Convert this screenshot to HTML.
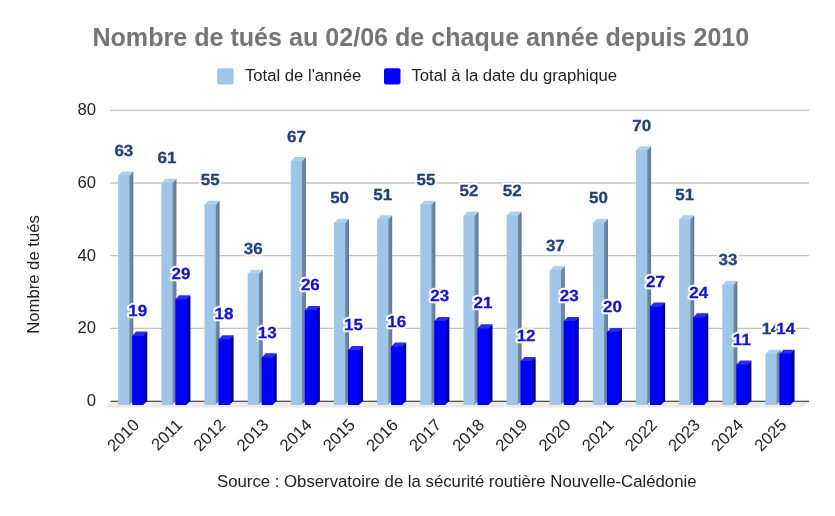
<!DOCTYPE html>
<html><head><meta charset="utf-8"><style>
html,body{margin:0;padding:0;background:#fff;}
body{width:835px;height:516px;overflow:hidden;}
svg{display:block;will-change:transform;}
text{font-family:"Liberation Sans",sans-serif;}
.ax{font-size:16.66px;fill:#222222;}
.title{font-size:25.1px;font-weight:bold;fill:#757575;}
.leg{font-size:16.66px;fill:#222222;}
.dl1{font-size:17px;text-rendering:geometricPrecision;font-weight:bold;fill:#213f7c;stroke:#213f7c;stroke-width:0.3px;}
.dl2{font-size:17px;text-rendering:geometricPrecision;font-weight:bold;fill:#1414d0;stroke:#1414d0;stroke-width:0.3px;}
.halo{fill:#ffffff;stroke:#ffffff;stroke-width:4.6px;stroke-linejoin:round;}
</style></head><body>
<svg width="835" height="516" viewBox="0 0 835 516">
<defs>
<linearGradient id="gl" gradientUnits="objectBoundingBox" x1="0" y1="0" x2="1" y2="0"><stop offset="0" stop-color="#7893ae"/><stop offset="1" stop-color="#5f7891"/></linearGradient>
<linearGradient id="gd" gradientUnits="objectBoundingBox" x1="0" y1="0" x2="1" y2="0"><stop offset="0" stop-color="#0000d8"/><stop offset="1" stop-color="#000088"/></linearGradient>
</defs>
<rect x="0" y="0" width="835" height="516" fill="#ffffff"/>
<text x="92.4" y="46" class="title">Nombre de tués au 02/06 de chaque année depuis 2010</text>
<rect x="217.2" y="68.2" width="16.5" height="16.3" rx="2" fill="#9fc5e8"/>
<text x="245" y="81" class="leg">Total de l'année</text>
<rect x="384" y="68.2" width="16.5" height="16.3" rx="2" fill="#0000ff"/>
<text x="411.5" y="81" class="leg">Total à la date du graphique</text>
<text x="0" y="0" text-anchor="middle" class="ax" transform="translate(39,274.5) rotate(-90)">Nombre de tués</text>
<text x="217" y="486.5" class="ax" style="font-size:16.75px">Source : Observatoire de la sécurité routière Nouvelle-Calédonie</text>
<line x1="110.5" y1="328.40" x2="809" y2="328.40" stroke="#c3c3c3" stroke-width="1.3"/>
<line x1="110.5" y1="255.70" x2="809" y2="255.70" stroke="#c3c3c3" stroke-width="1.3"/>
<line x1="110.5" y1="183.00" x2="809" y2="183.00" stroke="#c3c3c3" stroke-width="1.3"/>
<line x1="110.5" y1="110.30" x2="809" y2="110.30" stroke="#c3c3c3" stroke-width="1.3"/>
<text x="96" y="405.90" text-anchor="end" class="ax">0</text>
<text x="96" y="333.20" text-anchor="end" class="ax">20</text>
<text x="96" y="260.50" text-anchor="end" class="ax">40</text>
<text x="96" y="187.80" text-anchor="end" class="ax">60</text>
<text x="96" y="115.10" text-anchor="end" class="ax">80</text>
<line x1="110.5" y1="401.4" x2="809" y2="401.4" stroke="#222222" stroke-width="1.2"/>
<polygon points="110.5,401.70 809,401.70 802.5,407.60 104,407.60" fill="#ebebeb"/>
<polygon points="128.80,175.50 133.30,171.60 133.30,401.10 128.80,405.00" fill="url(#gl)"/>
<polygon points="118.20,175.90 122.10,171.60 133.30,171.60 129.40,175.90" fill="#b0cfec"/>
<rect x="118.20" y="175.50" width="11.20" height="229.50" fill="#9fc5e8"/>
<polygon points="142.80,335.44 147.30,331.54 147.30,401.10 142.80,405.00" fill="url(#gd)"/>
<polygon points="132.20,335.83 136.10,331.54 147.30,331.54 143.40,335.83" fill="#2a2af2"/>
<rect x="132.20" y="335.44" width="11.20" height="69.56" fill="#0000ff"/>
<polygon points="171.95,182.77 176.45,178.87 176.45,401.10 171.95,405.00" fill="url(#gl)"/>
<polygon points="161.35,183.17 165.25,178.87 176.45,178.87 172.55,183.17" fill="#b0cfec"/>
<rect x="161.35" y="182.77" width="11.20" height="222.23" fill="#9fc5e8"/>
<polygon points="185.95,299.09 190.45,295.19 190.45,401.10 185.95,405.00" fill="url(#gd)"/>
<polygon points="175.35,299.49 179.25,295.19 190.45,295.19 186.55,299.49" fill="#2a2af2"/>
<rect x="175.35" y="299.09" width="11.20" height="105.91" fill="#0000ff"/>
<polygon points="215.10,204.58 219.60,200.68 219.60,401.10 215.10,405.00" fill="url(#gl)"/>
<polygon points="204.50,204.98 208.40,200.68 219.60,200.68 215.70,204.98" fill="#b0cfec"/>
<rect x="204.50" y="204.58" width="11.20" height="200.42" fill="#9fc5e8"/>
<polygon points="229.10,339.07 233.60,335.17 233.60,401.10 229.10,405.00" fill="url(#gd)"/>
<polygon points="218.50,339.47 222.40,335.17 233.60,335.17 229.70,339.47" fill="#2a2af2"/>
<rect x="218.50" y="339.07" width="11.20" height="65.93" fill="#0000ff"/>
<polygon points="258.25,273.64 262.75,269.74 262.75,401.10 258.25,405.00" fill="url(#gl)"/>
<polygon points="247.65,274.04 251.55,269.74 262.75,269.74 258.85,274.04" fill="#b0cfec"/>
<rect x="247.65" y="273.64" width="11.20" height="131.36" fill="#9fc5e8"/>
<polygon points="272.25,357.25 276.75,353.35 276.75,401.10 272.25,405.00" fill="url(#gd)"/>
<polygon points="261.65,357.64 265.55,353.35 276.75,353.35 272.85,357.64" fill="#2a2af2"/>
<rect x="261.65" y="357.25" width="11.20" height="47.75" fill="#0000ff"/>
<polygon points="301.40,160.96 305.90,157.06 305.90,401.10 301.40,405.00" fill="url(#gl)"/>
<polygon points="290.80,161.36 294.70,157.06 305.90,157.06 302.00,161.36" fill="#b0cfec"/>
<rect x="290.80" y="160.96" width="11.20" height="244.04" fill="#9fc5e8"/>
<polygon points="315.40,309.99 319.90,306.09 319.90,401.10 315.40,405.00" fill="url(#gd)"/>
<polygon points="304.80,310.39 308.70,306.09 319.90,306.09 316.00,310.39" fill="#2a2af2"/>
<rect x="304.80" y="309.99" width="11.20" height="95.01" fill="#0000ff"/>
<polygon points="344.55,222.75 349.05,218.85 349.05,401.10 344.55,405.00" fill="url(#gl)"/>
<polygon points="333.95,223.15 337.85,218.85 349.05,218.85 345.15,223.15" fill="#b0cfec"/>
<rect x="333.95" y="222.75" width="11.20" height="182.25" fill="#9fc5e8"/>
<polygon points="358.55,349.98 363.05,346.08 363.05,401.10 358.55,405.00" fill="url(#gd)"/>
<polygon points="347.95,350.38 351.85,346.08 363.05,346.08 359.15,350.38" fill="#2a2af2"/>
<rect x="347.95" y="349.98" width="11.20" height="55.02" fill="#0000ff"/>
<polygon points="387.70,219.12 392.20,215.22 392.20,401.10 387.70,405.00" fill="url(#gl)"/>
<polygon points="377.10,219.52 381.00,215.22 392.20,215.22 388.30,219.52" fill="#b0cfec"/>
<rect x="377.10" y="219.12" width="11.20" height="185.88" fill="#9fc5e8"/>
<polygon points="401.70,346.34 406.20,342.44 406.20,401.10 401.70,405.00" fill="url(#gd)"/>
<polygon points="391.10,346.74 395.00,342.44 406.20,342.44 402.30,346.74" fill="#2a2af2"/>
<rect x="391.10" y="346.34" width="11.20" height="58.66" fill="#0000ff"/>
<polygon points="430.85,204.58 435.35,200.68 435.35,401.10 430.85,405.00" fill="url(#gl)"/>
<polygon points="420.25,204.98 424.15,200.68 435.35,200.68 431.45,204.98" fill="#b0cfec"/>
<rect x="420.25" y="204.58" width="11.20" height="200.42" fill="#9fc5e8"/>
<polygon points="444.85,320.89 449.35,317.00 449.35,401.10 444.85,405.00" fill="url(#gd)"/>
<polygon points="434.25,321.29 438.15,317.00 449.35,317.00 445.45,321.29" fill="#2a2af2"/>
<rect x="434.25" y="320.89" width="11.20" height="84.11" fill="#0000ff"/>
<polygon points="474.00,215.48 478.50,211.58 478.50,401.10 474.00,405.00" fill="url(#gl)"/>
<polygon points="463.40,215.88 467.30,211.58 478.50,211.58 474.60,215.88" fill="#b0cfec"/>
<rect x="463.40" y="215.48" width="11.20" height="189.52" fill="#9fc5e8"/>
<polygon points="488.00,328.17 492.50,324.27 492.50,401.10 488.00,405.00" fill="url(#gd)"/>
<polygon points="477.40,328.56 481.30,324.27 492.50,324.27 488.60,328.56" fill="#2a2af2"/>
<rect x="477.40" y="328.17" width="11.20" height="76.83" fill="#0000ff"/>
<polygon points="517.15,215.48 521.65,211.58 521.65,401.10 517.15,405.00" fill="url(#gl)"/>
<polygon points="506.55,215.88 510.45,211.58 521.65,211.58 517.75,215.88" fill="#b0cfec"/>
<rect x="506.55" y="215.48" width="11.20" height="189.52" fill="#9fc5e8"/>
<polygon points="531.15,360.88 535.65,356.98 535.65,401.10 531.15,405.00" fill="url(#gd)"/>
<polygon points="520.55,361.28 524.45,356.98 535.65,356.98 531.75,361.28" fill="#2a2af2"/>
<rect x="520.55" y="360.88" width="11.20" height="44.12" fill="#0000ff"/>
<polygon points="560.30,270.00 564.80,266.11 564.80,401.10 560.30,405.00" fill="url(#gl)"/>
<polygon points="549.70,270.40 553.60,266.11 564.80,266.11 560.90,270.40" fill="#b0cfec"/>
<rect x="549.70" y="270.00" width="11.20" height="135.00" fill="#9fc5e8"/>
<polygon points="574.30,320.89 578.80,317.00 578.80,401.10 574.30,405.00" fill="url(#gd)"/>
<polygon points="563.70,321.29 567.60,317.00 578.80,317.00 574.90,321.29" fill="#2a2af2"/>
<rect x="563.70" y="320.89" width="11.20" height="84.11" fill="#0000ff"/>
<polygon points="603.45,222.75 607.95,218.85 607.95,401.10 603.45,405.00" fill="url(#gl)"/>
<polygon points="592.85,223.15 596.75,218.85 607.95,218.85 604.05,223.15" fill="#b0cfec"/>
<rect x="592.85" y="222.75" width="11.20" height="182.25" fill="#9fc5e8"/>
<polygon points="617.45,331.80 621.95,327.90 621.95,401.10 617.45,405.00" fill="url(#gd)"/>
<polygon points="606.85,332.20 610.75,327.90 621.95,327.90 618.05,332.20" fill="#2a2af2"/>
<rect x="606.85" y="331.80" width="11.20" height="73.20" fill="#0000ff"/>
<polygon points="646.60,150.05 651.10,146.15 651.10,401.10 646.60,405.00" fill="url(#gl)"/>
<polygon points="636.00,150.45 639.90,146.15 651.10,146.15 647.20,150.45" fill="#b0cfec"/>
<rect x="636.00" y="150.05" width="11.20" height="254.95" fill="#9fc5e8"/>
<polygon points="660.60,306.36 665.10,302.46 665.10,401.10 660.60,405.00" fill="url(#gd)"/>
<polygon points="650.00,306.75 653.90,302.46 665.10,302.46 661.20,306.75" fill="#2a2af2"/>
<rect x="650.00" y="306.36" width="11.20" height="98.64" fill="#0000ff"/>
<polygon points="689.75,219.12 694.25,215.22 694.25,401.10 689.75,405.00" fill="url(#gl)"/>
<polygon points="679.15,219.52 683.05,215.22 694.25,215.22 690.35,219.52" fill="#b0cfec"/>
<rect x="679.15" y="219.12" width="11.20" height="185.88" fill="#9fc5e8"/>
<polygon points="703.75,317.26 708.25,313.36 708.25,401.10 703.75,405.00" fill="url(#gd)"/>
<polygon points="693.15,317.66 697.05,313.36 708.25,313.36 704.35,317.66" fill="#2a2af2"/>
<rect x="693.15" y="317.26" width="11.20" height="87.74" fill="#0000ff"/>
<polygon points="732.90,284.55 737.40,280.65 737.40,401.10 732.90,405.00" fill="url(#gl)"/>
<polygon points="722.30,284.94 726.20,280.65 737.40,280.65 733.50,284.94" fill="#b0cfec"/>
<rect x="722.30" y="284.55" width="11.20" height="120.45" fill="#9fc5e8"/>
<polygon points="746.90,364.51 751.40,360.62 751.40,401.10 746.90,405.00" fill="url(#gd)"/>
<polygon points="736.30,364.91 740.20,360.62 751.40,360.62 747.50,364.91" fill="#2a2af2"/>
<rect x="736.30" y="364.51" width="11.20" height="40.49" fill="#0000ff"/>
<polygon points="776.05,353.61 780.55,349.71 780.55,401.10 776.05,405.00" fill="url(#gl)"/>
<polygon points="765.45,354.01 769.35,349.71 780.55,349.71 776.65,354.01" fill="#b0cfec"/>
<rect x="765.45" y="353.61" width="11.20" height="51.39" fill="#9fc5e8"/>
<polygon points="790.05,353.61 794.55,349.71 794.55,401.10 790.05,405.00" fill="url(#gd)"/>
<polygon points="779.45,354.01 783.35,349.71 794.55,349.71 790.65,354.01" fill="#2a2af2"/>
<rect x="779.45" y="353.61" width="11.20" height="51.39" fill="#0000ff"/>
<text x="0" y="0" text-anchor="middle" class="dl1 halo" transform="translate(123.85,156.10) scale(1,0.94)">63</text>
<text x="0" y="0" text-anchor="middle" class="dl1" transform="translate(123.85,156.10) scale(1,0.94)">63</text>
<text x="0" y="0" text-anchor="middle" class="dl1 halo" transform="translate(167.00,163.37) scale(1,0.94)">61</text>
<text x="0" y="0" text-anchor="middle" class="dl1" transform="translate(167.00,163.37) scale(1,0.94)">61</text>
<text x="0" y="0" text-anchor="middle" class="dl1 halo" transform="translate(210.15,185.18) scale(1,0.94)">55</text>
<text x="0" y="0" text-anchor="middle" class="dl1" transform="translate(210.15,185.18) scale(1,0.94)">55</text>
<text x="0" y="0" text-anchor="middle" class="dl1 halo" transform="translate(253.30,254.24) scale(1,0.94)">36</text>
<text x="0" y="0" text-anchor="middle" class="dl1" transform="translate(253.30,254.24) scale(1,0.94)">36</text>
<text x="0" y="0" text-anchor="middle" class="dl1 halo" transform="translate(296.45,141.56) scale(1,0.94)">67</text>
<text x="0" y="0" text-anchor="middle" class="dl1" transform="translate(296.45,141.56) scale(1,0.94)">67</text>
<text x="0" y="0" text-anchor="middle" class="dl1 halo" transform="translate(339.60,203.35) scale(1,0.94)">50</text>
<text x="0" y="0" text-anchor="middle" class="dl1" transform="translate(339.60,203.35) scale(1,0.94)">50</text>
<text x="0" y="0" text-anchor="middle" class="dl1 halo" transform="translate(382.75,199.72) scale(1,0.94)">51</text>
<text x="0" y="0" text-anchor="middle" class="dl1" transform="translate(382.75,199.72) scale(1,0.94)">51</text>
<text x="0" y="0" text-anchor="middle" class="dl1 halo" transform="translate(425.90,185.18) scale(1,0.94)">55</text>
<text x="0" y="0" text-anchor="middle" class="dl1" transform="translate(425.90,185.18) scale(1,0.94)">55</text>
<text x="0" y="0" text-anchor="middle" class="dl1 halo" transform="translate(469.05,196.08) scale(1,0.94)">52</text>
<text x="0" y="0" text-anchor="middle" class="dl1" transform="translate(469.05,196.08) scale(1,0.94)">52</text>
<text x="0" y="0" text-anchor="middle" class="dl1 halo" transform="translate(512.20,196.08) scale(1,0.94)">52</text>
<text x="0" y="0" text-anchor="middle" class="dl1" transform="translate(512.20,196.08) scale(1,0.94)">52</text>
<text x="0" y="0" text-anchor="middle" class="dl1 halo" transform="translate(555.35,250.61) scale(1,0.94)">37</text>
<text x="0" y="0" text-anchor="middle" class="dl1" transform="translate(555.35,250.61) scale(1,0.94)">37</text>
<text x="0" y="0" text-anchor="middle" class="dl1 halo" transform="translate(598.50,203.35) scale(1,0.94)">50</text>
<text x="0" y="0" text-anchor="middle" class="dl1" transform="translate(598.50,203.35) scale(1,0.94)">50</text>
<text x="0" y="0" text-anchor="middle" class="dl1 halo" transform="translate(641.65,130.65) scale(1,0.94)">70</text>
<text x="0" y="0" text-anchor="middle" class="dl1" transform="translate(641.65,130.65) scale(1,0.94)">70</text>
<text x="0" y="0" text-anchor="middle" class="dl1 halo" transform="translate(684.80,199.72) scale(1,0.94)">51</text>
<text x="0" y="0" text-anchor="middle" class="dl1" transform="translate(684.80,199.72) scale(1,0.94)">51</text>
<text x="0" y="0" text-anchor="middle" class="dl1 halo" transform="translate(727.95,265.15) scale(1,0.94)">33</text>
<text x="0" y="0" text-anchor="middle" class="dl1" transform="translate(727.95,265.15) scale(1,0.94)">33</text>
<text x="0" y="0" text-anchor="middle" class="dl1 halo" transform="translate(771.10,334.21) scale(1,0.94)">14</text>
<text x="0" y="0" text-anchor="middle" class="dl1" transform="translate(771.10,334.21) scale(1,0.94)">14</text>
<text x="0" y="0" text-anchor="middle" class="dl2 halo" transform="translate(137.75,315.74) scale(1,0.94)">19</text>
<text x="0" y="0" text-anchor="middle" class="dl2" transform="translate(137.75,315.74) scale(1,0.94)">19</text>
<text x="0" y="0" text-anchor="middle" class="dl2 halo" transform="translate(180.90,279.39) scale(1,0.94)">29</text>
<text x="0" y="0" text-anchor="middle" class="dl2" transform="translate(180.90,279.39) scale(1,0.94)">29</text>
<text x="0" y="0" text-anchor="middle" class="dl2 halo" transform="translate(224.05,319.37) scale(1,0.94)">18</text>
<text x="0" y="0" text-anchor="middle" class="dl2" transform="translate(224.05,319.37) scale(1,0.94)">18</text>
<text x="0" y="0" text-anchor="middle" class="dl2 halo" transform="translate(267.20,337.55) scale(1,0.94)">13</text>
<text x="0" y="0" text-anchor="middle" class="dl2" transform="translate(267.20,337.55) scale(1,0.94)">13</text>
<text x="0" y="0" text-anchor="middle" class="dl2 halo" transform="translate(310.35,290.29) scale(1,0.94)">26</text>
<text x="0" y="0" text-anchor="middle" class="dl2" transform="translate(310.35,290.29) scale(1,0.94)">26</text>
<text x="0" y="0" text-anchor="middle" class="dl2 halo" transform="translate(353.50,330.28) scale(1,0.94)">15</text>
<text x="0" y="0" text-anchor="middle" class="dl2" transform="translate(353.50,330.28) scale(1,0.94)">15</text>
<text x="0" y="0" text-anchor="middle" class="dl2 halo" transform="translate(396.65,326.64) scale(1,0.94)">16</text>
<text x="0" y="0" text-anchor="middle" class="dl2" transform="translate(396.65,326.64) scale(1,0.94)">16</text>
<text x="0" y="0" text-anchor="middle" class="dl2 halo" transform="translate(439.80,301.19) scale(1,0.94)">23</text>
<text x="0" y="0" text-anchor="middle" class="dl2" transform="translate(439.80,301.19) scale(1,0.94)">23</text>
<text x="0" y="0" text-anchor="middle" class="dl2 halo" transform="translate(482.95,308.47) scale(1,0.94)">21</text>
<text x="0" y="0" text-anchor="middle" class="dl2" transform="translate(482.95,308.47) scale(1,0.94)">21</text>
<text x="0" y="0" text-anchor="middle" class="dl2 halo" transform="translate(526.10,341.18) scale(1,0.94)">12</text>
<text x="0" y="0" text-anchor="middle" class="dl2" transform="translate(526.10,341.18) scale(1,0.94)">12</text>
<text x="0" y="0" text-anchor="middle" class="dl2 halo" transform="translate(569.25,301.19) scale(1,0.94)">23</text>
<text x="0" y="0" text-anchor="middle" class="dl2" transform="translate(569.25,301.19) scale(1,0.94)">23</text>
<text x="0" y="0" text-anchor="middle" class="dl2 halo" transform="translate(612.40,312.10) scale(1,0.94)">20</text>
<text x="0" y="0" text-anchor="middle" class="dl2" transform="translate(612.40,312.10) scale(1,0.94)">20</text>
<text x="0" y="0" text-anchor="middle" class="dl2 halo" transform="translate(655.55,286.66) scale(1,0.94)">27</text>
<text x="0" y="0" text-anchor="middle" class="dl2" transform="translate(655.55,286.66) scale(1,0.94)">27</text>
<text x="0" y="0" text-anchor="middle" class="dl2 halo" transform="translate(698.70,297.56) scale(1,0.94)">24</text>
<text x="0" y="0" text-anchor="middle" class="dl2" transform="translate(698.70,297.56) scale(1,0.94)">24</text>
<text x="0" y="0" text-anchor="middle" class="dl2 halo" transform="translate(741.85,344.81) scale(1,0.94)">11</text>
<text x="0" y="0" text-anchor="middle" class="dl2" transform="translate(741.85,344.81) scale(1,0.94)">11</text>
<text x="0" y="0" text-anchor="middle" class="dl2 halo" transform="translate(785.80,333.91) scale(1,0.94)">14</text>
<text x="0" y="0" text-anchor="middle" class="dl2" transform="translate(785.80,333.91) scale(1,0.94)">14</text>
<text x="0" y="0" text-anchor="end" class="ax" transform="translate(140.20,426) rotate(-45)">2010</text>
<text x="0" y="0" text-anchor="end" class="ax" transform="translate(183.35,426) rotate(-45)">2011</text>
<text x="0" y="0" text-anchor="end" class="ax" transform="translate(226.50,426) rotate(-45)">2012</text>
<text x="0" y="0" text-anchor="end" class="ax" transform="translate(269.65,426) rotate(-45)">2013</text>
<text x="0" y="0" text-anchor="end" class="ax" transform="translate(312.80,426) rotate(-45)">2014</text>
<text x="0" y="0" text-anchor="end" class="ax" transform="translate(355.95,426) rotate(-45)">2015</text>
<text x="0" y="0" text-anchor="end" class="ax" transform="translate(399.10,426) rotate(-45)">2016</text>
<text x="0" y="0" text-anchor="end" class="ax" transform="translate(442.25,426) rotate(-45)">2017</text>
<text x="0" y="0" text-anchor="end" class="ax" transform="translate(485.40,426) rotate(-45)">2018</text>
<text x="0" y="0" text-anchor="end" class="ax" transform="translate(528.55,426) rotate(-45)">2019</text>
<text x="0" y="0" text-anchor="end" class="ax" transform="translate(571.70,426) rotate(-45)">2020</text>
<text x="0" y="0" text-anchor="end" class="ax" transform="translate(614.85,426) rotate(-45)">2021</text>
<text x="0" y="0" text-anchor="end" class="ax" transform="translate(658.00,426) rotate(-45)">2022</text>
<text x="0" y="0" text-anchor="end" class="ax" transform="translate(701.15,426) rotate(-45)">2023</text>
<text x="0" y="0" text-anchor="end" class="ax" transform="translate(744.30,426) rotate(-45)">2024</text>
<text x="0" y="0" text-anchor="end" class="ax" transform="translate(787.45,426) rotate(-45)">2025</text>
</svg>
</body></html>
